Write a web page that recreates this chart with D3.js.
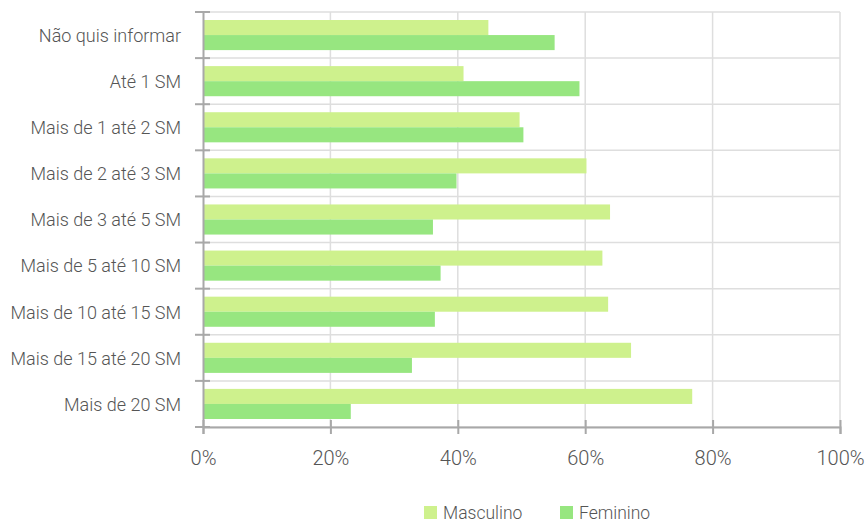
<!DOCTYPE html>
<html>
<head>
<meta charset="utf-8">
<script src="https://cdn.jsdelivr.net/npm/d3@7"></script>
<style>
  html, body { margin: 0; padding: 0; background: #fff; }
  svg text { font-family: Roboto, "Open Sans", sans-serif; font-weight: 300; fill: #555; }
</style>
</head>
<body>
<svg id="chart" width="866" height="524"></svg>
<script>
const categories = ["Não quis informar", "Até 1 SM", "Mais de 1 até 2 SM", "Mais de 2 até 3 SM",
  "Mais de 3 até 5 SM", "Mais de 5 até 10 SM", "Mais de 10 até 15 SM", "Mais de 15 até 20 SM", "Mais de 20 SM"];
const seriesNames = ["Masculino", "Feminino"];
const masculino = [44.8, 40.9, 49.7, 60.2, 63.9, 62.7, 63.6, 67.2, 76.8];
const feminino  = [55.2, 59.1, 50.3, 39.8, 36.1, 37.3, 36.4, 32.8, 23.2];
const xTicks = [0, 20, 40, 60, 80, 100];
const colors = ["#cef18d", "#97e680"];

const svg = d3.select("#chart");
const margin = {left: 203, top: 12, right: 26, bottom: 97};
const W = 866, H = 524;
const innerW = W - margin.left - margin.right;
const innerH = H - margin.top - margin.bottom;

const x = d3.scaleLinear().domain([0, 100]).range([0, innerW]);
const y0 = d3.scaleBand().domain(categories).range([0, innerH]).padding(0);
const y1 = d3.scaleBand().domain(seriesNames).range([8, y0.bandwidth() - 8]).padding(0);

const g = svg.append("g").attr("transform", `translate(${margin.left},${margin.top})`);

// grid
const gridColor = "#dedede";
g.selectAll(".vgrid").data(xTicks.filter(d => d > 0)).join("line")
  .attr("x1", d => x(d)).attr("x2", d => x(d))
  .attr("y1", 0).attr("y2", innerH)
  .attr("stroke", gridColor).attr("stroke-width", 1.5);
const bounds = categories.map(c => y0(c)).concat([innerH]);
g.selectAll(".hgrid").data(bounds).join("line")
  .attr("x1", 0).attr("x2", innerW)
  .attr("y1", d => d).attr("y2", d => d)
  .attr("stroke", gridColor).attr("stroke-width", 1.5);

// bars
const data = categories.map((c, i) => ({cat: c, vals: [masculino[i], feminino[i]]}));
const grp = g.selectAll(".grp").data(data).join("g")
  .attr("transform", d => `translate(0,${y0(d.cat)})`);
grp.selectAll("rect").data(d => d.vals.map((v, j) => ({name: seriesNames[j], v, j}))).join("rect")
  .attr("x", 0)
  .attr("y", d => y1(d.name))
  .attr("width", d => x(d.v))
  .attr("height", y1.bandwidth())
  .attr("fill", d => colors[d.j]);

// x axis
const axisColor = "#a8a8a8";
const xAxis = g.append("g").attr("transform", `translate(0,${innerH})`)
  .call(d3.axisBottom(x).tickValues(xTicks).tickFormat(d => d + "%").tickSize(7).tickPadding(0));
xAxis.select(".domain").attr("stroke", axisColor).attr("stroke-width", 2);
xAxis.selectAll(".tick line").attr("y1", -7).attr("y2", 7).attr("stroke", axisColor).attr("stroke-width", 2);
xAxis.selectAll(".tick text").attr("y", 38).attr("dy", 0)
  .style("font-size", "20px").style("font-family", "Roboto, sans-serif").style("font-weight", 300).attr("fill", "#555");

// y axis
const yAxis = g.append("g")
  .call(d3.axisLeft(y0).tickSize(0).tickPadding(22));
yAxis.select(".domain").attr("stroke", axisColor).attr("stroke-width", 2);
yAxis.selectAll(".tick text")
  .style("font-size", "18px").style("font-family", "Roboto, sans-serif").style("font-weight", 300)
  .attr("fill", "#555").attr("dy", "0.38em");
g.selectAll(".ytick").data(bounds).join("line")
  .attr("x1", -8).attr("x2", 7)
  .attr("y1", d => d).attr("y2", d => d)
  .attr("stroke", axisColor).attr("stroke-width", 2);

// legend
const legend = svg.append("g").attr("transform", "translate(424,506)");
const legX = [0, 136];
seriesNames.forEach((s, i) => {
  const lg = legend.append("g").attr("transform", `translate(${legX[i]},0)`);
  lg.append("rect").attr("width", 13).attr("height", 13).attr("fill", colors[i]);
  lg.append("text").attr("x", 19).attr("y", 12.5).text(s)
    .style("font-size", "17.5px").attr("fill", "#555");
});
</script>
</body>
</html>
